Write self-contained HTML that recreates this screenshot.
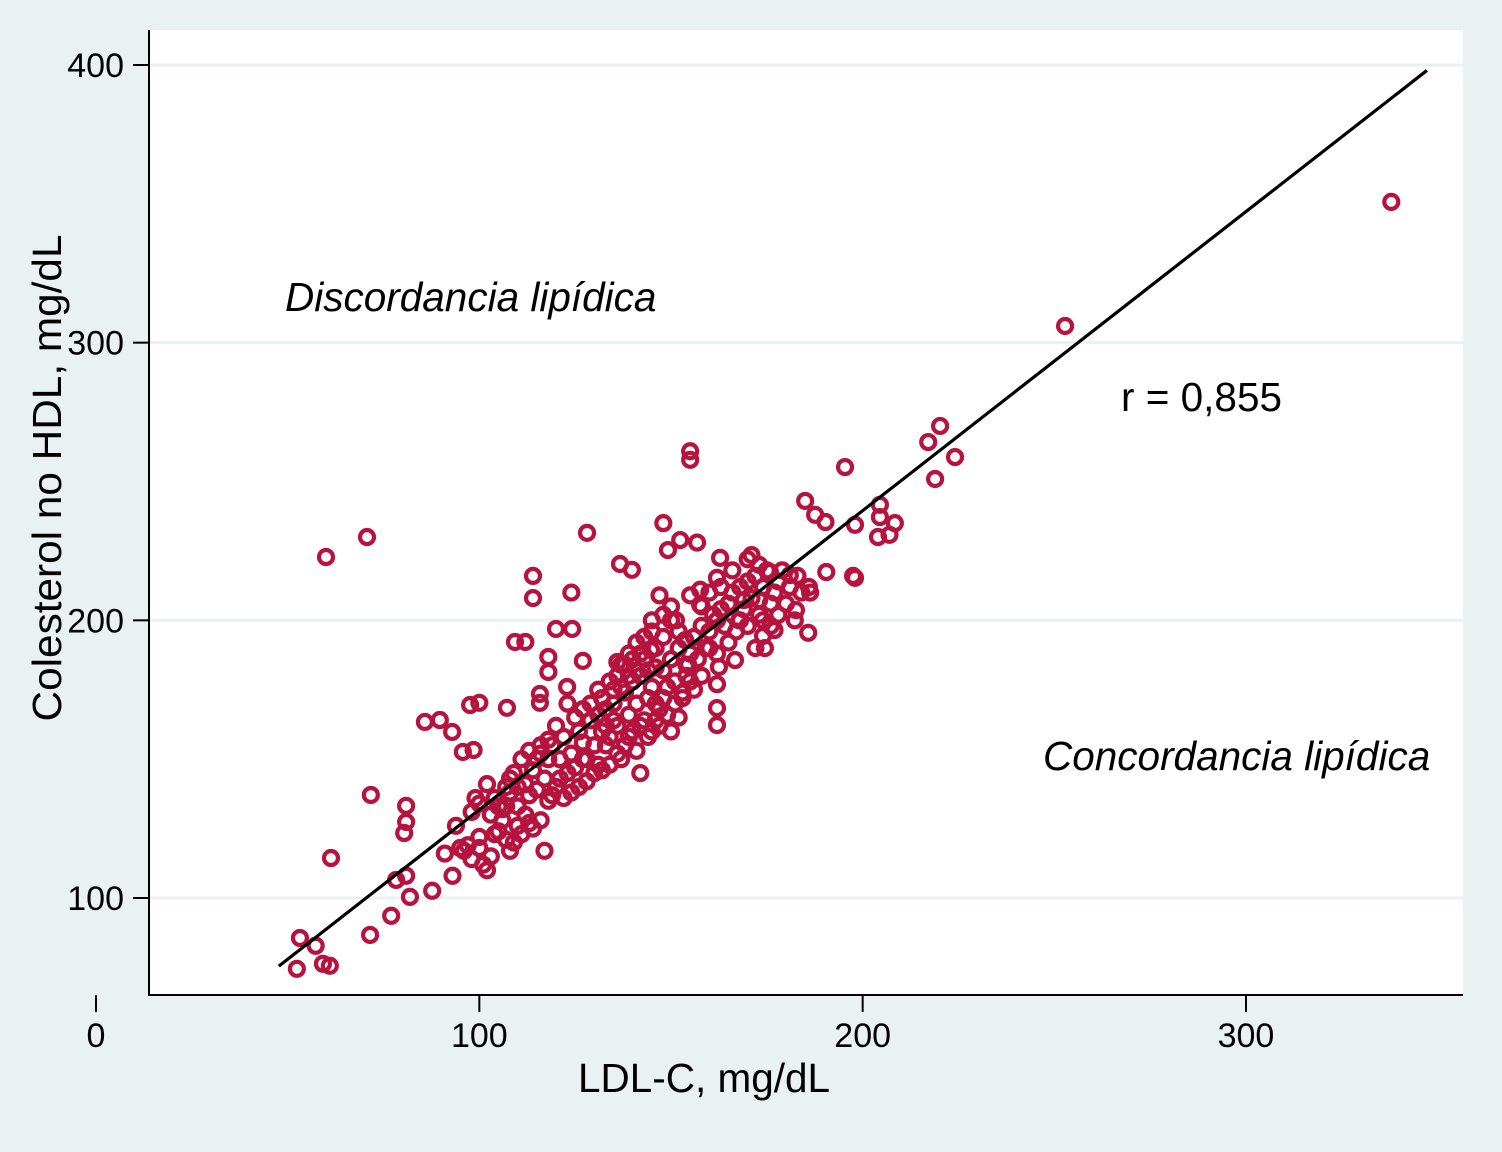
<!DOCTYPE html>
<html><head><meta charset="utf-8"><style>
html,body{margin:0;padding:0;background:#eaf1f3;}
svg{display:block;font-family:"Liberation Sans",sans-serif;}
</style></head><body>
<svg id="chart" width="1502" height="1152" xmlns="http://www.w3.org/2000/svg">
<rect x="0" y="0" width="1502" height="1152" fill="#eaf1f3"/>
<rect x="149" y="30" width="1314" height="965" fill="#ffffff"/>
<g id="grid"></g>
<g id="points"></g>
<g id="fit"></g>
<g id="axes"></g>
<text x="285" y="311" font-size="40.5" font-style="italic" fill="#000">Discordancia lipídica</text>
<text x="1043" y="770" font-size="40.5" font-style="italic" fill="#000">Concordancia lipídica</text>
<text x="1121" y="411" font-size="40.5" fill="#000">r = 0,855</text>
<text x="704" y="1092" font-size="40.5" text-anchor="middle" fill="#000">LDL-C, mg/dL</text>
<text x="0" y="0" font-size="40.5" text-anchor="middle" textLength="487" lengthAdjust="spacingAndGlyphs" fill="#000" transform="translate(61,478) rotate(-90)">Colesterol no HDL, mg/dL</text>
</svg>
<script>
const xTicks=[0,100,200,300];
const yTicks=[100,200,300,400];
const fitIntercept=24.1;
const fitSlope=1.077;
const fitRange=[47.7,347.2];
const ldl=[337.9,252.8,220.2,217.1,224.1,218.9,195.4,155,155,70.7,60,128.1,85.8,89.7,92.9,71.7,80.9,80.9,80.4,61.3,78.3,80.9,87.7,81.9,77,71.5,53.2,57.3,59.2,61,52.4,114,114,136.7,139.8,124,148,149.2,152.4,156.8,109.3,112,120,124.2,118,118,127,97.6,100,107.2,115.8,115.8,122.9,98.5,95.7,93.9,
185,187.6,190.3,198,204.5,204.5,208.4,207,204,197.5,198,190.5,185.8,186.3,182.6,181,175.8,171,162.8,162,162,162,162,162.5,166.7,174.5,174,177,182.3,173,167.8,169,157.6,157.6,155,147,151.3,145,144.8,153.7,154.5,
96,98,100,101,102,103,104,105,106,107,108,109,110,111,112,113,114,116,117,118,119,120,121,104,106,108,110,112,114,116,118,100,98,99,102,108,91,93,95,97,100,103,105,107,110,113,115,117,119,121,122,123,124,125,126,127,128,129,130,131,132,133,134,135,136,137,138,139,140,141,142,143,144,145,146,147,148,149,150,151,152,153,154,155,156,157,158,159,160,161,162,163,164,165,166,167,168,169,170,171,172,173,174,175,176,177,178,179,180,181,183,184,186,
132,134,136,138,140,142,144,146,148,150,152,135,137,139,141,143,145,147,149,151,153,155,140,142,144,146,138,136,134,132,130,128,126,124,122,129,131,133,135,137,139,141,143,145,127,125,123,127,133,139,141,142,120,118,116,115,113,111,109,107,131,136,160,162,165,168,170,172,174,176,178,158,156,154,148,150,152,146,158,160,163,166,170,173,150,148];
const nonHdl=[350.7,306,270,264.2,258.8,250.9,255.2,260.9,257.8,230,222.8,231.5,163.4,164.1,159.8,137.1,133.2,127.4,123.4,114.4,106.5,108,102.6,100.4,93.6,86.7,85.6,82.8,76.3,75.6,74.5,216,208,220.3,218.2,210,235,225.3,228.9,228,192.2,192.2,196.9,196.9,186.8,181.4,185.4,169.5,170.3,168.5,173.5,170.3,176,153.3,152.6,126,
243,238,235.4,234.4,237.2,241.6,235,230.8,230,216,215.3,217.4,195.5,210,203.7,216.3,217.4,223.5,222.5,215.3,177,168.4,162.3,183.2,185.7,190,194.4,196.5,200,207.3,200,207.3,211,205.6,209,209,200,200,189.3,192.9,184,
117,114,118,112,110,115,123,124,128,121,117,120,126,123,130,127,125,128,117,135,137,140,143,136,132,138,140,141,146,152,150,134,131,136,141,143,116,108,118,119,122,130,133,133,133,137,139,143,155,150,158,145,152,147,160,156,150,164,155,148,160,168,158,170,162,150,174,166,178,170,180,164,172,176,183,168,182,176,186,178,190,172,184,188,194,186,198,190,196,202,200,204,198,206,210,196,212,204,214,208,216,202,212,218,206,210,214,218,206,212,216,210,212,
172,178,180,184,186,188,182,190,194,200,196,164,176,180,182,186,160,162,166,170,174,178,160,162,158,164,155,152,148,146,145,142,140,138,136,170,166,162,175,184,188,192,194,196,168,165,170,150,155,158,153,145,162,157,155,150,153,150,145,140,175,185,190,188,192,200,198,190,200,198,202,180,175,180,172,160,165,170,205,210,212,218,222,220,205,202];

const X0=96,XS=3.8333,Y0=898,YS=2.7767;
function xScale(v){return X0+(v-0)*XS;}
function yScale(v){return Y0-(v-100)*YS;}
const NS="http://www.w3.org/2000/svg";
function mk(tag,attrs,parent){const e=document.createElementNS(NS,tag);for(const k in attrs)e.setAttribute(k,attrs[k]);parent.appendChild(e);return e;}
const grid=document.getElementById('grid');
const axes=document.getElementById('axes');
yTicks.forEach(t=>{
  const y=yScale(t);
  const g=mk('line',{x1:150,x2:1463,y1:y,y2:y,stroke:'#eaf1f3','stroke-width':3},grid);
  
  
  const tk=mk('line',{x1:133,x2:149,y1:y,y2:y,stroke:'#000','stroke-width':2},axes);
  
  
  const lb=mk('text',{x:124,y:y+12,'font-size':34,'text-anchor':'end',fill:'#000'},axes);
  lb.textContent=t;
  
  
});
xTicks.forEach(t=>{
  const x=xScale(t);
  const tk=mk('line',{x1:x,x2:x,y1:995,y2:1012,stroke:'#000','stroke-width':2},axes);
  
  
  const lb=mk('text',{x:x,y:1047,'font-size':34,'text-anchor':'middle',fill:'#000'},axes);
  lb.textContent=t;
  
  
});
const ax1=mk('line',{x1:149,x2:149,y1:30,y2:996,stroke:'#000','stroke-width':2},axes);


const ax2=mk('line',{x1:148,x2:1463,y1:995,y2:995,stroke:'#000','stroke-width':2},axes);


const pts=document.getElementById('points');
for(let i=0;i<ldl.length&&i<nonHdl.length;i++){
  const c=mk('circle',{cx:xScale(ldl[i]),cy:yScale(nonHdl[i]),r:7,fill:'none',stroke:'#b7133f','stroke-width':4.2},pts);
  
  
}
const fit=document.getElementById('fit');
const fl=mk('line',{x1:xScale(fitRange[0]),y1:yScale(fitIntercept+fitSlope*fitRange[0]),x2:xScale(fitRange[1]),y2:yScale(fitIntercept+fitSlope*fitRange[1]),stroke:'#000','stroke-width':3.2},fit);


</script>
</body></html>
